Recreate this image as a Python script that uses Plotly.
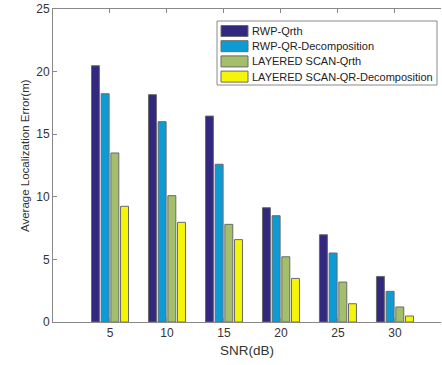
import plotly.graph_objects as go

snr = [5, 10, 15, 20, 25, 30]
rwp_qrth = [20.47, 18.16, 16.45, 9.13, 6.97, 3.64]
rwp_qr = [18.23, 16.0, 12.6, 8.49, 5.51, 2.45]
ls_qrth = [13.5, 10.09, 7.8, 5.21, 3.19, 1.2]
ls_qr = [9.24, 7.96, 6.58, 3.48, 1.46, 0.48]

names = ["RWP-Qrth", "RWP-QR-Decomposition", "LAYERED SCAN-Qrth", "LAYERED SCAN-QR-Decomposition"]
series = [rwp_qrth, rwp_qr, ls_qrth, ls_qr]
colors = ["#33287f", "#0d9bd6", "#a4bf6b", "#f5f50a"]

W, H = 442, 365
ML, MR, MT, MB = 53, 1, 9, 43
PW, PH = W - ML - MR, H - MT - MB


def px(x):
    return (x - ML) / PW


def py(y):
    return (H - MB - y) / PH


fig = go.Figure()
for n, s, c in zip(names, series, colors):
    fig.add_trace(go.Bar(x=snr, y=s, name=n, showlegend=False,
                         marker=dict(color=c, line=dict(color="#6a6a6a", width=1))))

font_family = "Liberation Sans, Arial, sans-serif"

shapes = [dict(type="rect", xref="paper", yref="paper", x0=px(217), x1=px(437), y0=py(85), y1=py(21),
               fillcolor="white", line=dict(color="#8a8a8a", width=1), layer="above")]
annotations = []
for i, (n, c) in enumerate(zip(names, colors)):
    yc = 31 + i * 15.2
    shapes.append(dict(type="rect", xref="paper", yref="paper", x0=px(221), x1=px(248),
                       y0=py(yc + 5.5), y1=py(yc - 5.5), fillcolor=c,
                       line=dict(color="#6a6a6a", width=1), layer="above"))
    annotations.append(dict(xref="paper", yref="paper", x=px(250), y=py(yc), text=n, showarrow=False,
                            xanchor="left", yanchor="middle",
                            font=dict(family=font_family, size=11, color="#222222")))

annotations.append(dict(xref="paper", yref="paper", x=px(25), y=py(156), text="Average Localization Error(m)",
                        textangle=-90, showarrow=False, xanchor="center", yanchor="middle",
                        font=dict(family=font_family, size=11.5, color="#333333")))

fig.update_layout(
    width=W, height=H,
    margin=dict(l=ML, r=MR, t=MT, b=MB),
    paper_bgcolor="white", plot_bgcolor="white",
    barmode="group", bargap=0.32, bargroupgap=0.18,
    font=dict(family=font_family, size=12, color="#333333"),
    showlegend=False,
    shapes=shapes,
    annotations=annotations,
    xaxis=dict(range=[0, 34.04], tickvals=snr, ticks="inside", ticklen=4, tickcolor="#888888",
               showline=True, linecolor="#888888", linewidth=1, mirror="ticks",
               showgrid=False, zeroline=False,
               title=dict(text="SNR(dB)", font=dict(size=13.5), standoff=6)),
    yaxis=dict(range=[0, 25], tickvals=[0, 5, 10, 15, 20, 25], ticks="inside", ticklen=4, tickcolor="#888888",
               showline=True, linecolor="#888888", linewidth=1, mirror=False,
               showgrid=False, zeroline=False),
)

fig.write_html("out.html")
